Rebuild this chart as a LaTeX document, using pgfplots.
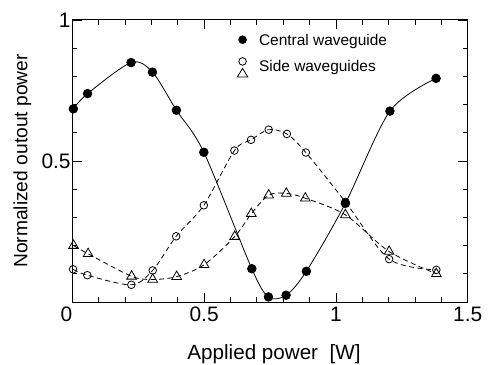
\documentclass[border=0pt]{standalone}
\usepackage{fontspec}
\setmainfont{Liberation Sans}
\usepackage{pgfplots}
\pgfplotsset{compat=1.18}
\begin{document}
\begin{tikzpicture}
\useasboundingbox (-72.3bp,-63bp) rectangle (417.7bp,302bp);
\begin{axis}[
  at={(0,0)}, anchor=south west,
  scale only axis, width=395.4bp, height=282bp,
  xmin=0, xmax=1.5, ymin=0, ymax=1,
  xtick={0,0.5,1,1.5}, xticklabels={\llap{0},0.5,1,1.5},
  ytick={0,0.5,1}, yticklabels={,0.5,1},
  minor x tick num=4, minor y tick num=4,
  tick align=inside, major tick length=9.5bp, minor tick length=5bp,
  axis line style={line width=1bp},
  every tick/.style={line width=0.8bp, black},
  tick label style={font=\fontsize{21}{24}\selectfont},
  xticklabel style={inner sep=0pt, anchor=north, yshift=-5bp},
  yticklabel style={inner sep=0pt, anchor=east, xshift=-1.5bp},
  xlabel={Applied power\hspace{0.556em}[W]},
  xlabel style={at={([xshift=4bp,yshift=-57bp]axis description cs:0.5,0)}, anchor=base, font=\fontsize{20.7}{24}\selectfont, inner sep=0pt},
  ylabel={Normalized outout power},
  ylabel style={at={([xshift=-45bp]axis description cs:0,0.5)}, anchor=base, font=\fontsize{19.3}{22}\selectfont, inner sep=0pt},
  legend style={draw=none, fill=none, at={(axis description cs:0.418,0.949)}, anchor=north west, inner sep=0pt, outer sep=0pt, font=\fontsize{15.5}{18}\selectfont, row sep=13.5bp, column sep=11.5bp, nodes={inner sep=0pt}},
  legend cell align=left,
]
\addlegendimage{legend image code/.code={\path[draw=none, fill=none] (-5bp,-6bp) rectangle (5bp,6bp); \fill[black, draw=none] (0bp,1bp) circle (4.3bp);}}
\addlegendentry{Central waveguide}
\addlegendimage{legend image code/.code={\path[draw=none, fill=none] (-5bp,-6bp) rectangle (5bp,6bp); \draw[overlay, black, fill=white, line width=0.8bp] (0bp,5.5bp) circle (3.8bp); \draw[overlay, black, fill=white, line width=0.8bp] (-5.2bp,-10bp) -- (5.2bp,-10bp) -- (0bp,-1.5bp) -- cycle;}}
\addlegendentry{Side waveguides}

\addplot[forget plot, black, line width=0.8bp, dash pattern=on 5bp off 3.5bp, smooth, mark=triangle, mark size=5.6bp, mark options={solid, fill=white}] coordinates {
(0.005,0.200) (0.06,0.171) (0.225,0.091) (0.305,0.080) (0.396,0.090) (0.5,0.132) (0.616,0.232) (0.679,0.313) (0.745,0.379) (0.812,0.385) (0.884,0.368) (1.036,0.309) (1.202,0.179) (1.381,0.100)};
\addplot[forget plot, black, line width=0.8bp, dash pattern=on 5bp off 3.5bp, smooth, mark=o, mark size=3.8bp, mark options={solid, fill=white}] coordinates {
(0.003,0.116) (0.057,0.095) (0.224,0.061) (0.305,0.112) (0.394,0.233) (0.499,0.343) (0.615,0.537) (0.678,0.575) (0.745,0.611) (0.814,0.596) (0.886,0.530) (1.036,0.355) (1.202,0.152) (1.381,0.114)};
\addplot[forget plot, black, line width=0.8bp, smooth, mark=*, mark size=4.3bp, mark options={solid, fill=black}] coordinates {
(0.004,0.685) (0.058,0.739) (0.223,0.849) (0.304,0.815) (0.395,0.680) (0.499,0.531) (0.681,0.118) (0.744,0.018) (0.811,0.024) (0.888,0.109) (1.036,0.350) (1.205,0.677) (1.380,0.793)};
\end{axis}
\end{tikzpicture}
\end{document}
